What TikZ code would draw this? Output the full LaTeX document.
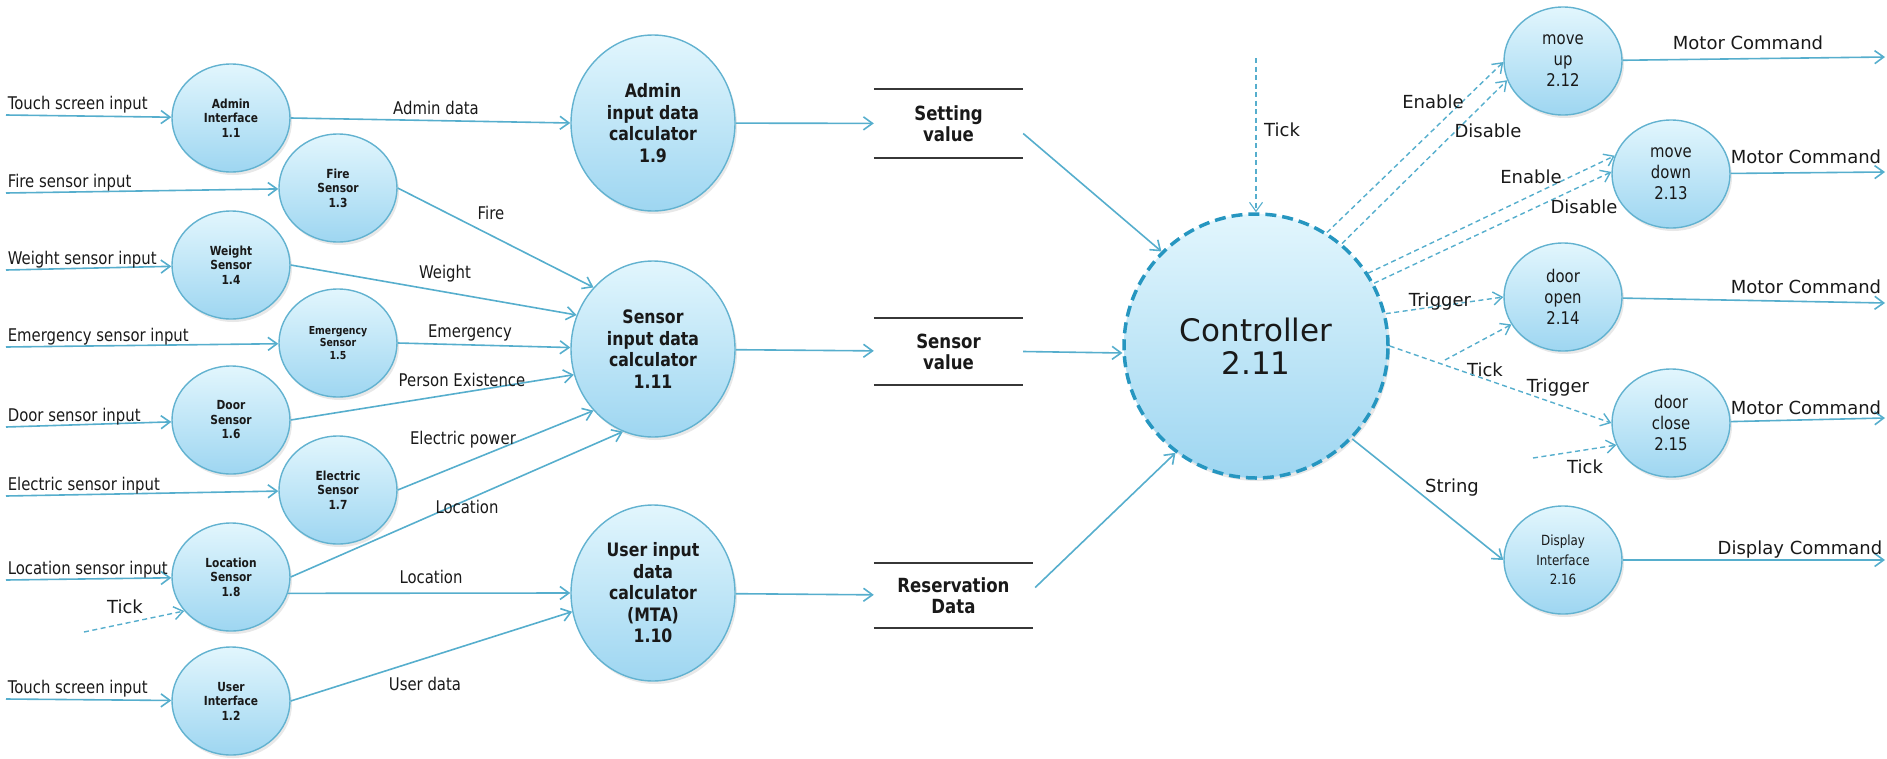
\documentclass[tikz,border=0pt]{standalone}
\usepackage{fontspec}
\setmainfont{DejaVu Sans}
\newfontfamily\narrowsans[FakeStretch=0.85]{DejaVu Sans}
\usetikzlibrary{arrows.meta,shapes.geometric,shadows}

\definecolor{flowc}{RGB}{86,174,205}
\definecolor{rimc}{RGB}{98,178,208}
\definecolor{ctrlrim}{RGB}{38,150,192}
\definecolor{topc}{RGB}{226,246,253}
\definecolor{botc}{RGB}{158,214,241}
\definecolor{storec}{RGB}{55,55,55}
\definecolor{txtc}{RGB}{25,25,25}

\tikzset{
  proc/.style={ellipse, draw=rimc, line width=1.4pt, top color=topc, bottom color=botc,
    minimum width=118pt, minimum height=108pt, inner sep=0pt, align=center, text=txtc,
    drop shadow={shadow xshift=2pt, shadow yshift=-3pt, opacity=0.18}},
  insens/.style={font=\narrowsans\fontsize{12.5}{14.5}\selectfont\bfseries},
  outproc/.style={font=\narrowsans\fontsize{17.5}{21}\selectfont},
  calc/.style={proc, minimum width=164pt, minimum height=176pt,
    font=\narrowsans\fontsize{18.5}{21.5}\selectfont\bfseries},
  ctrlproc/.style={proc, circle, minimum size=264pt, draw=ctrlrim, line width=3.5pt,
    dash pattern=on 11pt off 6pt, font=\fontsize{31}{33}\selectfont},
  store/.style={rectangle, minimum width=149pt, minimum height=69pt, inner sep=0pt,
    align=center, text=txtc, font=\narrowsans\fontsize{19.5}{21}\selectfont\bfseries},
  storeline/.style={draw=storec, line width=2pt},
  flow/.style={-{Straight Barb[length=9pt,width=13pt]}, draw=flowc, line width=1.6pt},
  dflow/.style={flow, line width=1.4pt, dash pattern=on 5pt off 3.5pt},
  lbl/.style={font=\narrowsans\fontsize{17.5}{18}\selectfont, text=txtc, inner sep=1pt},
  rlbl/.style={font=\fontsize{18}{21}\selectfont, text=txtc, inner sep=1pt}
}

\begin{document}
\begin{tikzpicture}[x=1pt, y=-1pt]
  \useasboundingbox (0,0) rectangle (1887,758);

  % input processes
  \node[proc, insens] (adminif) at (231,118) {Admin\\Interface\\1.1};
  \node[proc, insens] (fire) at (338,188) {Fire\\Sensor\\1.3};
  \node[proc, insens] (weight) at (231,265) {Weight\\Sensor\\1.4};
  \node[proc, font=\narrowsans\fontsize{11}{12.5}\selectfont\bfseries] (emerg) at (338,343) {Emergency\\Sensor\\1.5};
  \node[proc, insens] (door) at (231,420) {Door\\Sensor\\1.6};
  \node[proc, insens] (electric) at (338,490) {Electric\\Sensor\\1.7};
  \node[proc, insens] (location) at (231,577) {Location\\Sensor\\1.8};
  \node[proc, insens] (userif) at (231,701) {User\\Interface\\1.2};

  % calculators
  \node[calc] (admincalc) at (653,123) {Admin\\input data\\calculator\\1.9};
  \node[calc] (sensorcalc) at (653,349) {Sensor\\input data\\calculator\\1.11};
  \node[calc] (usercalc) at (653,593) {User input\\data\\calculator\\(MTA)\\1.10};

  % data stores
  \node[store] (setting) at (948.5,123.5) {Setting\\value};
  \node[store, minimum height=67pt] (sensorval) at (948.5,351.5) {Sensor\\value};
  \node[store, minimum width=159pt, minimum height=65pt] (reserv) at (953.5,595.5) {Reservation\\Data};
  \foreach \s in {setting,sensorval,reserv}
    \draw[storeline] (\s.north west) -- (\s.north east) (\s.south west) -- (\s.south east);

  % controller and outputs
  \node[ctrlproc] (ctrl) at (1256,346) {Controller\\2.11};
  \node[proc, outproc] (moveup) at (1563,61) {move\\up\\2.12};
  \node[proc, outproc] (movedown) at (1671,174) {move\\down\\2.13};
  \node[proc, outproc] (dooropen) at (1563,297) {door\\open\\2.14};
  \node[proc, outproc] (doorclose) at (1671,423) {door\\close\\2.15};
  \node[proc, font=\narrowsans\fontsize{14}{19.5}\selectfont] (display) at (1563,560) {Display\\Interface\\2.16};

  % inputs from outside
  \foreach \y/\n/\t in {115/adminif/Touch screen input, 193/fire/Fire sensor input,
      270/weight/Weight sensor input, 347/emerg/Emergency sensor input,
      427/door/Door sensor input, 496/electric/Electric sensor input,
      580/location/Location sensor input, 699/userif/Touch screen input}
  {
    \coordinate (in-\n) at (6,\y);
    \draw[flow] (in-\n) -- node[lbl, anchor=south west, pos=0] (lbl-in-\n) {\t} (\n);
  }

  % sensors to calculators
  \draw[flow] (adminif.east) -- (admincalc.180);
  \draw[flow] (fire.east) -- (sensorcalc.134);
  \draw[flow] (weight.east) -- (sensorcalc.156);
  \draw[flow] (emerg.east) -- (sensorcalc.179);
  \draw[flow] (door.east) -- (sensorcalc.198);
  \draw[flow] (electric.east) -- (sensorcalc.226);
  \draw[flow] (location.east) -- (sensorcalc.250);
  \draw[flow] (location.-16) -- (usercalc.180);
  \draw[flow] (userif.east) -- (usercalc.193);

  \node[lbl] (l-admin) at (436,108) {Admin data};
  \node[lbl] (l-fire) at (491,213) {Fire};
  \node[lbl] (l-weight) at (445,274) {Weight};
  \node[lbl] (l-emerg) at (470,333) {Emergency};
  \node[lbl] (l-person) at (462,380) {Person Existence};
  \node[lbl] (l-power) at (463,440) {Electric power};
  \node[lbl] (l-loc1) at (467,507) {Location};
  \node[lbl] (l-loc2) at (431,577) {Location};
  \node[lbl] (l-user) at (425,684) {User data};

  % calculators to stores to controller
  \draw[flow] (admincalc) -- (setting);
  \draw[flow] (sensorcalc) -- (sensorval);
  \draw[flow] (usercalc) -- (reserv);
  \draw[flow] ([yshift=-10pt]setting.east) -- (ctrl.135);
  \draw[flow] (sensorval.east) -- (ctrl.183);
  \draw[flow] ([yshift=8pt, xshift=2pt]reserv.east) -- (ctrl.233);

  % ticks
  \coordinate (tick-top) at (1256,58);
  \coordinate (tick-loc) at (84,632);
  \coordinate (tick-open) at (1445,360);
  \coordinate (tick-close) at (1533,458);
  \draw[dflow, line width=1.1pt] (tick-top) -- (ctrl.90);
  \draw[dflow] (tick-loc) -- (location.216);
  \draw[dflow] (tick-open) -- (dooropen.208);
  \draw[dflow] (tick-close) -- (doorclose.202);
  \node[rlbl, anchor=west] (l-tick1) at (1263,130) {Tick};
  \node[rlbl] (l-tick2) at (125,607) {Tick};
  \node[rlbl] (l-tick3) at (1485,370) {Tick};
  \node[rlbl] (l-tick4) at (1585,467) {Tick};

  % controller to outputs
  \draw[dflow] (ctrl.58) -- (moveup.181);
  \draw[dflow] (ctrl.50) -- (moveup.199);
  \draw[dflow] (ctrl.33) -- (movedown.162);
  \draw[dflow] (ctrl.28) -- (movedown.178);
  \draw[dflow] (ctrl.14) -- (dooropen.180);
  \draw[dflow] (ctrl.0) -- (doorclose.180);
  \draw[flow] (ctrl.-44) -- (display.180);

  \node[rlbl] (l-en1) at (1433,102) {Enable};
  \node[rlbl] (l-dis1) at (1488,131) {Disable};
  \node[rlbl] (l-en2) at (1531,177) {Enable};
  \node[rlbl] (l-dis2) at (1584,207) {Disable};
  \node[rlbl] (l-trig1) at (1440,302) {Trigger};
  \node[rlbl] (l-trig2) at (1558,388) {Trigger};
  \node[rlbl] (l-string) at (1452,488) {String};

  % commands going out
  \coordinate (out-up) at (1885,57);
  \coordinate (out-down) at (1885,172);
  \coordinate (out-open) at (1885,303);
  \coordinate (out-close) at (1885,418);
  \coordinate (out-disp) at (1885,560);
  \draw[flow] (moveup) -- (out-up);
  \draw[flow] (movedown) -- (out-down);
  \draw[flow] (dooropen) -- (out-open);
  \draw[flow] (doorclose) -- (out-close);
  \draw[flow] (display) -- (out-disp);
  \node[rlbl] (l-mc1) at (1748,43) {Motor Command};
  \node[rlbl] (l-mc2) at (1806,157) {Motor Command};
  \node[rlbl] (l-mc3) at (1806,287) {Motor Command};
  \node[rlbl] (l-mc4) at (1806,408) {Motor Command};
  \node[rlbl] (l-dc) at (1800,550) {Display Command};
\end{tikzpicture}
\end{document}
